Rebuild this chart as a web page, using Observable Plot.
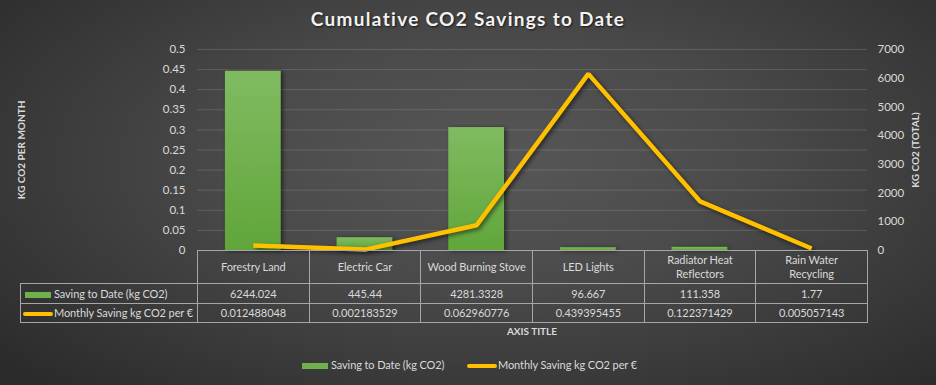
<!DOCTYPE html>
<html>
<head>
<meta charset="utf-8">
<script src="https://cdn.jsdelivr.net/npm/d3@7"></script>
<script src="https://cdn.jsdelivr.net/npm/@observablehq/plot@0.6"></script>
<style>
  html, body { margin: 0; padding: 0; background: #2a2a2a; }
  #wrap {
    position: relative; width: 936px; height: 385px; overflow: hidden;
    background: radial-gradient(ellipse 70% 80% at 53% 42%, #575757 0%, #4a4a4a 40%, #2b2b2b 100%);
    font-family: Lato, "Open Sans", sans-serif; color: #d9d9d9;
  }
  #chart { position: absolute; left: 0; top: 0; }
  #title {
    position: absolute; left: 0; top: 7px; width: 936px; text-align: center;
    font-weight: bold; font-size: 19px; letter-spacing: 1.3px; color: #f2f2f2;
    text-shadow: 1px 1px 2px rgba(0,0,0,0.7);
  }
  .ytitle {
    position: absolute; font-weight: bold; font-size: 10px; white-space: nowrap;
    transform-origin: center center; color: #d9d9d9;
  }
  #tbl {
    position: absolute; left: 20px; top: 250px; border-collapse: collapse; table-layout: fixed;
    font-size: 11px; letter-spacing: -0.1px; color: #d9d9d9;
  }
  #tbl td { border: 1px solid #a6a6a6; text-align: center; padding: 0; overflow: hidden; white-space: pre-line; line-height: 14px; }
  #tbl td.corner { border: none; }
  #tbl td.leg { text-align: left; white-space: nowrap; }
  .sw-bar { display: inline-block; width: 26px; height: 6px; background: #6fb04d; vertical-align: middle; margin: 0 3px 0 4px; }
  .sw-line { display: inline-block; width: 30px; height: 4px; border-radius: 2px; background: #FFC000; vertical-align: middle; margin: 0 1px 0 2px; }
  #xtitle { position: absolute; left: 197px; width: 670px; top: 325px; text-align: center; font-weight: bold; font-size: 10px; }
  #legend { position: absolute; left: 0; width: 936px; top: 358px; font-size: 11px; letter-spacing: -0.1px; }
  #legend span.item { position: absolute; white-space: nowrap; }
  svg g[aria-label="bar"] rect { filter: drop-shadow(2px 1px 2px rgba(0,0,0,0.55)); }
  svg g[aria-label="line"] path { filter: drop-shadow(2px 2px 2px rgba(0,0,0,0.55)); }
</style>
</head>
<body>
<div id="wrap">
  <div id="chart"></div>
  <div id="title"></div>
  <div class="ytitle" id="ylt"></div>
  <div class="ytitle" id="yrt"></div>
  <table id="tbl"></table>
  <div id="xtitle"></div>
  <div id="legend"></div>
</div>
<script>
const titleText = "Cumulative CO2 Savings to Date";
const leftAxisTitle = "KG CO2 PER MONTH";
const rightAxisTitle = "KG CO2 (TOTAL)";
const xAxisTitle = "AXIS TITLE";
const categories = ["Forestry Land", "Electric Car", "Wood Burning Stove", "LED Lights", "Radiator Heat Reflectors", "Rain Water Recycling"];
const tableHeaders = ["Forestry Land", "Electric Car", "Wood Burning Stove", "LED Lights", "Radiator Heat\nReflectors", "Rain Water\nRecycling"];
const seriesNames = ["Saving to Date (kg CO2)", "Monthly Saving kg CO2 per €"];
const savingToDate = [6244.024, 445.44, 4281.3328, 96.667, 111.358, 1.77];
const monthlySaving = [0.012488048, 0.002183529, 0.062960776, 0.439395455, 0.122371429, 0.005057143];
const leftTicks = [0, 0.05, 0.1, 0.15, 0.2, 0.25, 0.3, 0.35, 0.4, 0.45, 0.5];
const rightTicks = [0, 1000, 2000, 3000, 4000, 5000, 6000, 7000];

const leftMax = leftTicks[leftTicks.length - 1];
const rightMax = rightTicks[rightTicks.length - 1];
const ratio = leftMax / rightMax;

const data = categories.map((c, i) => ({c, total: savingToDate[i], monthly: monthlySaving[i]}));

const defs = () => {
  const d = document.createElementNS("http://www.w3.org/2000/svg", "defs");
  d.innerHTML = `<linearGradient id="barGrad" x1="0" y1="0" x2="0" y2="1">
    <stop offset="0" stop-color="#80bb61"/><stop offset="1" stop-color="#60a63a"/></linearGradient>`;
  return d;
};

const chart = Plot.plot({
  width: 936, height: 385,
  marginTop: 49, marginBottom: 135, marginLeft: 197, marginRight: 69,
  style: {background: "transparent", fontFamily: "Lato, 'Open Sans', sans-serif", fontSize: "11.5px", color: "#d9d9d9", overflow: "visible"},
  x: {domain: categories, paddingInner: 0.5, paddingOuter: 0.25, round: false, axis: null},
  y: {domain: [0, leftMax], axis: null},
  marks: [
    defs,
    Plot.gridY(leftTicks, {stroke: "#ffffff", strokeOpacity: 0.14}),
    Plot.axisY(leftTicks, {anchor: "left", tickSize: 0, tickPadding: 12, tickFormat: d => String(d), label: null}),
    Plot.axisY(rightTicks.map(v => v * ratio), {anchor: "right", tickSize: 0, tickPadding: 10, tickFormat: d => String(Math.round(d / ratio)), label: null}),
    Plot.barY(data, {x: "c", y: d => d.total * ratio, fill: "url(#barGrad)"}),
    Plot.lineY(data, {x: "c", y: "monthly", stroke: "#FFC000", strokeWidth: 4.5, strokeLinejoin: "miter", strokeLinecap: "butt"})
  ]
});
document.getElementById("chart").appendChild(chart);

document.getElementById("title").textContent = titleText;

const ylt = document.getElementById("ylt");
ylt.textContent = leftAxisTitle;
const yrt = document.getElementById("yrt");
yrt.textContent = rightAxisTitle;
document.getElementById("xtitle").textContent = xAxisTitle;

function placeRotated(el, cx, cy) {
  const w = el.offsetWidth, h = el.offsetHeight;
  el.style.left = (cx - w / 2) + "px";
  el.style.top = (cy - h / 2) + "px";
  el.style.transform = "rotate(-90deg)";
}
placeRotated(ylt, 21, 150);
placeRotated(yrt, 914, 150);

// data table
const tbl = document.getElementById("tbl");
const colW = 670 / categories.length;
const cg = document.createElement("colgroup");
const c0 = document.createElement("col"); c0.style.width = "177px"; cg.appendChild(c0);
categories.forEach(() => { const c = document.createElement("col"); c.style.width = colW + "px"; cg.appendChild(c); });
tbl.appendChild(cg);
tbl.style.width = (177 + 670) + "px";

const r0 = tbl.insertRow(); r0.style.height = "33px";
const corner = r0.insertCell(); corner.className = "corner";
tableHeaders.forEach(h => { const td = r0.insertCell(); td.textContent = h; });

const rows = [
  {name: seriesNames[0], vals: savingToDate, sw: "sw-bar", h: "20px"},
  {name: seriesNames[1], vals: monthlySaving, sw: "sw-line", h: "19px"}
];
rows.forEach(r => {
  const tr = tbl.insertRow(); tr.style.height = r.h;
  const lc = tr.insertCell(); lc.className = "leg";
  const sw = document.createElement("span"); sw.className = r.sw; lc.appendChild(sw);
  lc.appendChild(document.createTextNode(r.name));
  r.vals.forEach(v => { const td = tr.insertCell(); td.textContent = String(v); });
});

// legend
const legend = document.getElementById("legend");
const li1 = document.createElement("span"); li1.className = "item"; li1.style.left = "298px";
li1.innerHTML = '<span class="sw-bar"></span>'; li1.appendChild(document.createTextNode(seriesNames[0]));
const li2 = document.createElement("span"); li2.className = "item"; li2.style.left = "465px";
li2.innerHTML = '<span class="sw-line"></span>'; li2.appendChild(document.createTextNode(seriesNames[1]));
legend.appendChild(li1); legend.appendChild(li2);
</script>
</body>
</html>
